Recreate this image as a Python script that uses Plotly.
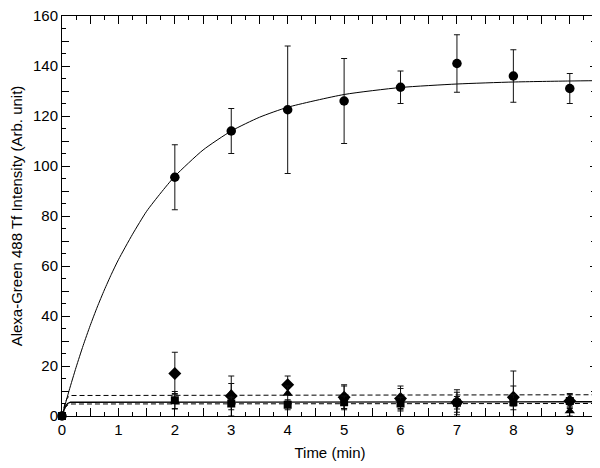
import plotly.graph_objects as go

# ---- data ----
t_main = [0, 2, 3, 4, 5, 6, 7, 8, 9]
y_main = [0, 95.5, 114, 122.5, 126, 131.5, 141, 136, 131]
e_main = [0, 13, 9, 25.5, 17, 6.5, 11.5, 10.5, 6]

t_dia = [2, 3, 4, 5, 6, 7, 8, 9]
y_dia = [17, 8, 12.5, 7.5, 7, 5.5, 7.5, 6]
e_dia = [8.5, 8, 3.5, 5, 5, 5, 10.5, 3]

t_tri = [2, 3, 4, 5, 6, 7, 8, 9]
y_tri = [6, 9, 9, 7.5, 7, 5.5, 8, 2]
e_tri = [3, 4, 3, 4.5, 4, 4, 4, 2]

t_sq = [0, 2, 3, 4, 5, 6, 7, 8, 9]
y_sq = [0, 6.3, 5, 4.5, 5.5, 5, 5.3, 5.5, 6]
e_sq = [0, 3.5, 2.5, 2, 2.5, 2.5, 2.5, 3, 2.5]

# fitted curves
t_fit = [0, 0.125, 0.25, 0.375, 0.5, 0.625, 0.75, 0.875, 1, 1.25, 1.5, 1.75, 2, 2.5, 3, 3.5, 4, 5, 6, 7, 8, 9, 9.5]
y_fit = [0, 10.1, 19.5, 28.2, 36.2, 43.6, 50.4, 56.7, 62.5, 72.7, 81.9, 89.2, 95.9, 106.4, 114, 119.5, 123.5,
         128.6, 131.4, 132.8, 133.6, 134.0, 134.15]

t_flat = [0, 0.03, 0.06, 0.1, 0.15, 9.5]
y_flat_hi = [0, 3.6, 5.8, 7.4, 8.2, 8.5]
y_flat_mid = [0, 2.4, 3.9, 5.0, 5.5, 5.7]
y_flat_lo = [0, 2.1, 3.4, 4.4, 4.8, 5.0]

x_ticks = [0, 1, 2, 3, 4, 5, 6, 7, 8, 9]
y_ticks = [0, 20, 40, 60, 80, 100, 120, 140, 160]

FONT = "Liberation Sans, Arial, sans-serif"

fig = go.Figure()

fig.add_trace(go.Scatter(x=t_fit, y=y_fit, mode="lines", line=dict(color="black", width=1, shape="spline", smoothing=0.6),
                         hoverinfo="skip", showlegend=False))
fig.add_trace(go.Scatter(x=t_flat, y=y_flat_hi, mode="lines", line=dict(color="black", width=1, dash="5px,3px"),
                         showlegend=False))
fig.add_trace(go.Scatter(x=t_flat, y=y_flat_mid, mode="lines", line=dict(color="black", width=1.3),
                         showlegend=False))
fig.add_trace(go.Scatter(x=t_flat, y=y_flat_lo, mode="lines", line=dict(color="black", width=1, dash="5px,3px"),
                         showlegend=False))

def err(vals):
    return dict(type="data", array=vals, visible=True, color="#111111", thickness=1, width=3)

fig.add_trace(go.Scatter(x=t_main, y=y_main, mode="markers", error_y=err(e_main), cliponaxis=False,
                         marker=dict(symbol="circle", size=9.5, color="black"), showlegend=False))
fig.add_trace(go.Scatter(x=t_dia, y=y_dia, mode="markers", error_y=err(e_dia),
                         marker=dict(symbol="diamond", size=10, color="black"), showlegend=False))
fig.add_trace(go.Scatter(x=t_tri, y=y_tri, mode="markers", error_y=err(e_tri),
                         marker=dict(symbol="triangle-up", size=9, color="black"), showlegend=False))
fig.add_trace(go.Scatter(x=t_sq, y=y_sq, mode="markers", error_y=err(e_sq), cliponaxis=False,
                         marker=dict(symbol="square", size=8, color="black"), showlegend=False))

axis_common = dict(showgrid=False, zeroline=False, showline=True, linecolor="black", linewidth=1,
                   mirror="ticks", ticks="inside", tickcolor="black", tickwidth=1, automargin=False,
                   ticklabeloverflow="allow",
                   tickfont=dict(family=FONT, size=15, color="black"))

# the page body adds an 8px offset, so the figure is 8px smaller and margins shifted
fig.update_layout(
    width=592, height=460,
    margin=dict(l=54, r=2, t=8, b=52),
    paper_bgcolor="white", plot_bgcolor="white",
    font=dict(family=FONT, size=15, color="black"),
    xaxis=dict(range=[0, 9.5], tickvals=x_ticks, ticklen=8,
               minor=dict(dtick=0.25, tick0=0, ticks="inside", ticklen=4, tickcolor="black", showgrid=False),
               title=dict(text="Time (min)", font=dict(family=FONT, size=15), standoff=10),
               **axis_common),
    yaxis=dict(range=[0, 160], tickvals=y_ticks, ticklen=8,
               minor=dict(dtick=5, tick0=0, ticks="inside", ticklen=4, tickcolor="black", showgrid=False),
               title=dict(text="Alexa-Green 488 Tf Intensity (Arb. unit)", font=dict(family=FONT, size=15), standoff=6),
               **axis_common),
    xaxis2=dict(overlaying="x", matches="x", range=[0, 9.5], dtick=0.5, tick0=0, ticks="inside", ticklen=8,
                tickcolor="black", showticklabels=False, showgrid=False, zeroline=False, showline=False,
                mirror="ticks", side="bottom", anchor="y", automargin=False),
    yaxis2=dict(overlaying="y", matches="y", range=[0, 160], dtick=10, tick0=0, ticks="inside", ticklen=7,
                tickcolor="black", showticklabels=False, showgrid=False, zeroline=False, showline=False,
                mirror="ticks", side="left", anchor="x", automargin=False),
)
# invisible trace to activate the overlay axes
fig.add_trace(go.Scatter(x=[0], y=[0], xaxis="x2", yaxis="y2", mode="markers",
                         marker=dict(opacity=0), hoverinfo="skip", showlegend=False))

fig.write_html("out.html")
